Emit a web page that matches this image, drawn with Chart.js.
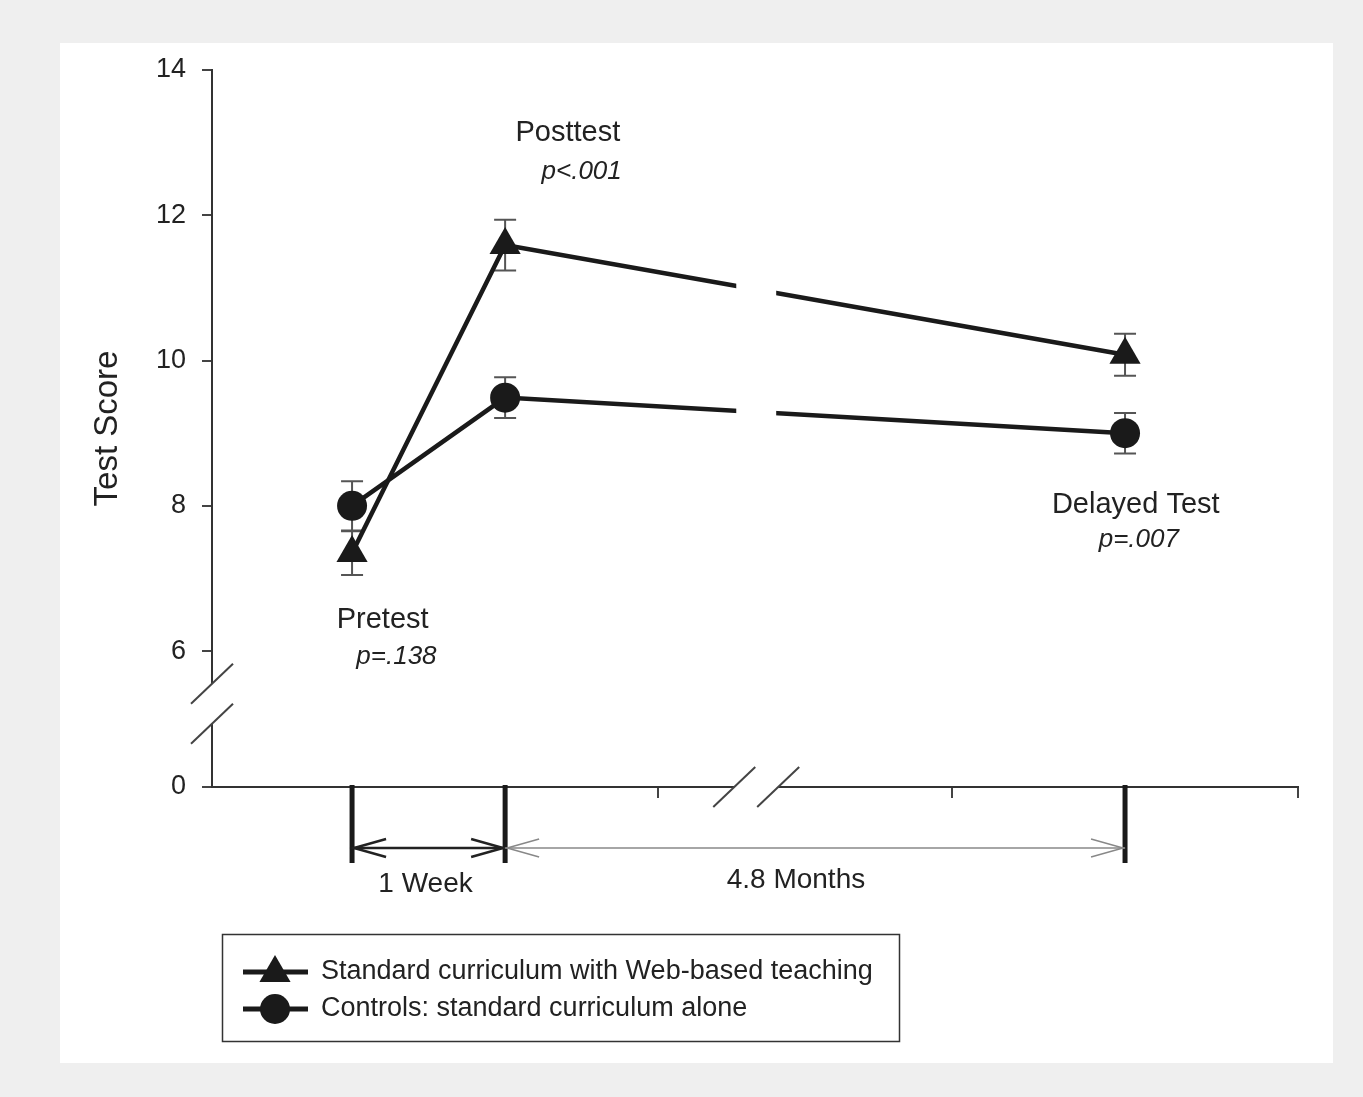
<!DOCTYPE html>
<html>
<head>
    <meta charset="utf-8">
    <title>Test Score</title>
    <script src="https://cdn.jsdelivr.net/npm/chart.js@4.4.0/dist/chart.umd.min.js"></script>
    <style>
        html, body { margin: 0; padding: 0; background: #efefef; }
    </style>
</head>
<body>
    <canvas id="myChart" width="1363" height="1097"></canvas>
    <script>
        // data
        const phases = ['Pretest', 'Posttest', 'Delayed Test'];
        const phaseX = [0, 1, 5.05];            // time position of each test
        const pValues = ['p=.138', 'p<.001', 'p=.007'];
        const seriesNames = ['Standard curriculum with Web-based teaching', 'Controls: standard curriculum alone'];
        const webScores = [7.35, 11.59, 10.08];
        const webErr = [0.30, 0.35, 0.29];
        const controlScores = [8.00, 9.49, 9.00];
        const controlErr = [0.34, 0.28, 0.28];
        const yTickValues = [6, 8, 10, 12, 14];
        const yBottomLabel = '0';
        const xTickValues = [2, 3.92, 6.18];
        const intervals = ['1 Week', '4.8 Months'];

        // axis layout (broken axes)
        const YMIN = 4.13, YMAX = 14;
        const XMIN = -0.915, XMAX = 6.18;
        const BREAK_X = [2.497, 2.784];
        const BREAK_Y = [5.55, 5.0];

        // where the stage / p-value / interval texts sit (data units)
        const phaseLabelPos = [{ x: 0.20, y: 6.43 }, { x: 1.41, y: 13.13 }, { x: 5.12, y: 8.01 }];
        const pLabelPos = [{ x: 0.29, y: 5.92 }, { x: 1.50, y: 12.60 }, { x: 5.14, y: 7.53 }];
        const intervalLabelX = [0.48, 2.90];

        const FONT = '"Liberation Sans", Arial, sans-serif';
        const INK = '#1a1a1a';
        Chart.defaults.font.family = FONT;
        Chart.defaults.color = '#222';

        const errs = [webErr, controlErr];

        function slash(c, x, y) {
            c.beginPath();
            c.moveTo(x - 21, y + 20);
            c.lineTo(x + 21, y - 20);
            c.stroke();
        }

        function chevron(c, x, y, dir) {
            c.beginPath();
            c.moveTo(x - dir * 32, y - 9);
            c.lineTo(x, y);
            c.lineTo(x - dir * 32, y + 9);
            c.stroke();
        }

        function drawMarker(c, style, x, y) {
            c.fillStyle = INK;
            c.beginPath();
            if (style === 'triangle') {
                const r = 18;
                c.moveTo(x, y - r);
                c.lineTo(x + r * Math.sin(2 * Math.PI / 3), y - r * Math.cos(2 * Math.PI / 3));
                c.lineTo(x + r * Math.sin(4 * Math.PI / 3), y - r * Math.cos(4 * Math.PI / 3));
                c.closePath();
            } else {
                c.arc(x, y, 15, 0, Math.PI * 2);
            }
            c.fill();
        }

        const decor = {
            id: 'decor',
            beforeDraw(chart) {
                const c = chart.ctx;
                c.save();
                c.fillStyle = '#efefef';
                c.fillRect(0, 0, chart.width, chart.height);
                c.fillStyle = '#ffffff';
                c.fillRect(60, 43, 1273, 1020);
                c.restore();
            },
            beforeDatasetsDraw(chart) {
                // error bars
                const c = chart.ctx, xs = chart.scales.x, ys = chart.scales.y;
                c.save();
                c.strokeStyle = '#555';
                c.lineWidth = 2;
                chart.data.datasets.forEach((ds, di) => {
                    ds.data.forEach((p, i) => {
                        const px = xs.getPixelForValue(p.x);
                        const t = ys.getPixelForValue(p.y + errs[di][i]);
                        const b = ys.getPixelForValue(p.y - errs[di][i]);
                        c.beginPath();
                        c.moveTo(px, t); c.lineTo(px, b);
                        c.moveTo(px - 11, t); c.lineTo(px + 11, t);
                        c.moveTo(px - 11, b); c.lineTo(px + 11, b);
                        c.stroke();
                    });
                });
                c.restore();
            },
            afterDatasetsDraw(chart) {
                const c = chart.ctx, xs = chart.scales.x, ys = chart.scales.y;
                const area = chart.chartArea;
                const bx0 = xs.getPixelForValue(BREAK_X[0]), bx1 = xs.getPixelForValue(BREAK_X[1]);
                const by0 = ys.getPixelForValue(BREAK_Y[0]), by1 = ys.getPixelForValue(BREAK_Y[1]);
                c.save();
                // gap in the lines and the axes
                c.fillStyle = '#ffffff';
                c.fillRect(bx0 + 2, area.top, bx1 - bx0 - 4, area.bottom - area.top - 10);
                c.fillRect(bx0, area.bottom - 3, bx1 - bx0, 6);
                c.fillRect(area.left - 4, by0, 8, by1 - by0);
                // break marks
                c.strokeStyle = '#444';
                c.lineWidth = 2;
                slash(c, bx0, area.bottom);
                slash(c, bx1, area.bottom);
                slash(c, area.left, by0);
                slash(c, area.left, by1);

                // test occasions on the time axis
                c.strokeStyle = INK;
                c.lineWidth = 5;
                phaseX.forEach(v => {
                    const px = xs.getPixelForValue(v);
                    c.beginPath();
                    c.moveTo(px, area.bottom - 2);
                    c.lineTo(px, area.bottom + 76);
                    c.stroke();
                });

                // interval arrows
                const ay = area.bottom + 61;
                const p0 = xs.getPixelForValue(phaseX[0]);
                const p1 = xs.getPixelForValue(phaseX[1]);
                const p2 = xs.getPixelForValue(phaseX[2]);
                c.strokeStyle = '#222';
                c.lineWidth = 2.5;
                c.beginPath(); c.moveTo(p0, ay); c.lineTo(p1, ay); c.stroke();
                chevron(c, p0 + 2, ay, -1);
                chevron(c, p1 - 2, ay, 1);
                c.strokeStyle = '#888';
                c.lineWidth = 1.5;
                c.beginPath(); c.moveTo(p1, ay); c.lineTo(p2, ay); c.stroke();
                chevron(c, p1 + 2, ay, -1);
                chevron(c, p2 - 2, ay, 1);

                c.fillStyle = '#222';
                c.font = '28px ' + FONT;
                c.textAlign = 'center';
                c.textBaseline = 'middle';
                c.fillText(intervals[0], xs.getPixelForValue(intervalLabelX[0]), area.bottom + 97);
                c.fillText(intervals[1], xs.getPixelForValue(intervalLabelX[1]), area.bottom + 93);

                // stage names and p values
                phases.forEach((name, i) => {
                    c.font = '29px ' + FONT;
                    c.fillText(name, xs.getPixelForValue(phaseLabelPos[i].x), ys.getPixelForValue(phaseLabelPos[i].y));
                    c.font = 'italic 26px ' + FONT;
                    c.fillText(pValues[i], xs.getPixelForValue(pLabelPos[i].x), ys.getPixelForValue(pLabelPos[i].y));
                });

                // legend box
                c.strokeStyle = '#333';
                c.lineWidth = 1.5;
                c.strokeRect(222.5, 934.5, 677, 107);
                const styles = ['triangle', 'circle'];
                seriesNames.forEach((name, i) => {
                    const ly = 972 + i * 37;
                    c.strokeStyle = INK;
                    c.lineWidth = 5;
                    c.beginPath(); c.moveTo(243, ly); c.lineTo(308, ly); c.stroke();
                    drawMarker(c, styles[i], 275, ly + (i === 0 ? 1 : 0));
                    c.fillStyle = '#222';
                    c.font = '27px ' + FONT;
                    c.textAlign = 'left';
                    c.fillText(name, 321, ly);
                });
                c.restore();
            }
        };

        const chartData = {
            datasets: [
                {
                    label: seriesNames[0],
                    data: phaseX.map((x, i) => ({ x: x, y: webScores[i] })),
                    borderColor: INK,
                    backgroundColor: INK,
                    borderWidth: 4.5,
                    pointStyle: 'triangle',
                    pointRadius: 18,
                    pointBorderWidth: 0,
                    pointBackgroundColor: INK
                },
                {
                    label: seriesNames[1],
                    data: phaseX.map((x, i) => ({ x: x, y: controlScores[i] })),
                    borderColor: INK,
                    backgroundColor: INK,
                    borderWidth: 4.5,
                    pointStyle: 'circle',
                    pointRadius: 15,
                    pointBorderWidth: 0,
                    pointBackgroundColor: INK
                }
            ]
        };

        const config = {
            type: 'line',
            data: chartData,
            options: {
                responsive: false,
                animation: false,
                layout: { padding: { left: 0, top: 70, right: 65, bottom: 310 } },
                plugins: {
                    legend: { display: false },
                    tooltip: { enabled: false }
                },
                scales: {
                    x: {
                        type: 'linear',
                        min: XMIN,
                        max: XMAX,
                        afterBuildTicks: scale => { scale.ticks = xTickValues.map(v => ({ value: v })); },
                        afterFit: scale => { scale.height = 0; },
                        ticks: { display: false },
                        grid: { drawOnChartArea: false, drawTicks: true, tickLength: 11, color: '#444', lineWidth: 2 },
                        border: { display: true, color: '#333', width: 2 }
                    },
                    y: {
                        type: 'linear',
                        min: YMIN,
                        max: YMAX,
                        afterBuildTicks: scale => { scale.ticks = [YMIN].concat(yTickValues).map(v => ({ value: v })); },
                        afterFit: scale => { scale.width = 212; },
                        ticks: {
                            padding: 16,
                            color: '#222',
                            font: { size: 27 },
                            callback: v => (v === YMIN ? yBottomLabel : String(v))
                        },
                        grid: { drawOnChartArea: false, drawTicks: true, tickLength: 10, color: '#444', lineWidth: 2 },
                        border: { display: true, color: '#333', width: 2 },
                        title: {
                            display: true,
                            text: 'Test Score',
                            color: '#222',
                            font: { size: 33 },
                            padding: { top: 88, bottom: 0 }
                        }
                    }
                }
            },
            plugins: [decor]
        };

        const myChart = new Chart(document.getElementById('myChart'), config);
    </script>
</body>
</html>
